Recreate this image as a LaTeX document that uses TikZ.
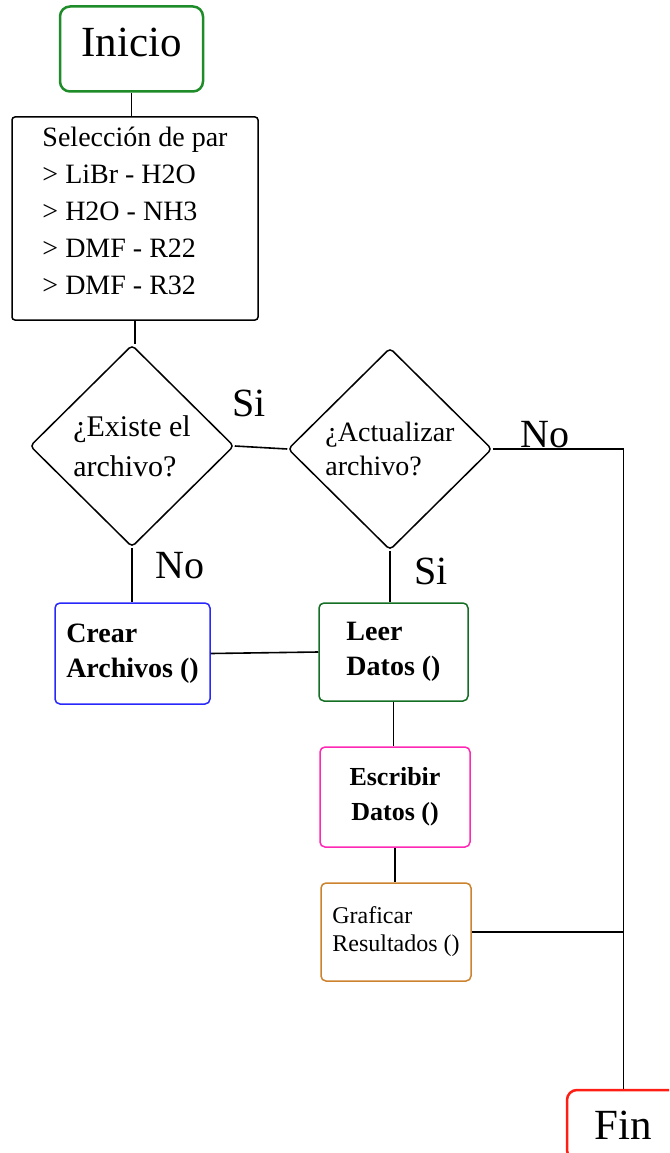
\documentclass[tikz,border=0pt]{standalone}
\usepackage{fontspec}
\setmainfont{Liberation Serif}
\usetikzlibrary{shapes.geometric}
\definecolor{inigreen}{RGB}{30,140,40}
\definecolor{leergreen}{RGB}{20,110,35}
\definecolor{crearblue}{RGB}{40,40,250}
\definecolor{escmag}{RGB}{255,40,180}
\definecolor{grafor}{RGB}{205,130,45}
\definecolor{finred}{RGB}{255,30,20}
\begin{document}
\begin{tikzpicture}[x=1pt,y=-1pt,
  box/.style={draw, rounded corners=5pt, line width=1.5pt, inner sep=0pt, align=left},
  dec/.style={diamond, draw, line width=1.5pt, rounded corners=4pt, inner sep=0pt, align=left,
    minimum width=204pt, minimum height=202pt},
  link/.style={line width=1.6pt},
  lab/.style={font=\fontsize{40}{40}\selectfont, anchor=base, inner sep=0pt}]
\useasboundingbox (0,0) rectangle (669,1153);
\clip (0,0) rectangle (669,1153);
% boxes
\node[box, draw=inigreen, line width=2.5pt, rounded corners=10pt, minimum width=143pt, minimum height=85pt,
  font=\fontsize{43}{43}\selectfont, text depth=14pt] (ini) at (131.5,49) {Inicio};
\node[box, rounded corners=3pt, minimum width=246pt, minimum height=203pt,
  font=\fontsize{28}{37}\selectfont, text depth=15pt] (sel) at (135,218.5)
  {Selección de par\\> LiBr - H2O\\> H2O - NH3\\> DMF - R22\\> DMF - R32};
\node[dec, font=\fontsize{30}{40}\selectfont] (d1) at (132,446) {¿Existe el\\archivo?};
\node[dec, font=\fontsize{28}{34}\selectfont] (d2) at (390,449) {¿Actualizar\\archivo?};
\node[box, draw=crearblue, minimum width=155pt, minimum height=101pt,
  font=\bfseries\fontsize{28}{35}\selectfont] (crear) at (132.5,653.5) {Crear\\Archivos ()};
\node[box, draw=leergreen, minimum width=149pt, minimum height=98pt,
  font=\bfseries\fontsize{28}{35}\selectfont] (leer) at (393.5,652) {Leer\\Datos ()};
\node[box, draw=escmag, minimum width=150pt, minimum height=100pt, align=center,
  font=\bfseries\fontsize{26}{35}\selectfont] (esc) at (395,797) {Escribir\\Datos ()};
\node[box, draw=grafor, minimum width=150pt, minimum height=98pt,
  font=\fontsize{24}{28}\selectfont, text depth=6pt] (graf) at (396,932) {Graficar\\Resultados ()};
\node[box, draw=finred, line width=2.5pt, rounded corners=10pt, minimum width=113pt, minimum height=70pt,
  font=\fontsize{43}{43}\selectfont] (fin) at (623.5,1125) {Fin};
% labels
\node[lab] (si1) at (249,416) {Si};
\node[lab] (no1) at (545,447) {No};
\node[lab] (no2) at (180,578) {No};
\node[lab] (si2) at (431,584) {Si};
% connectors
\draw[link] (ini.south) -- (sel.north -| ini.south);
\draw[link] (sel.south) -- (d1.north -| sel.south);
\draw[link] (d1.east) -- (d2.west);
\coordinate (c1) at (d2.east -| fin.north);
\draw[link] (d2.east) -- (c1) -- (fin.north);
\draw[link] (d1.south) -- (crear.north -| d1.south);
\draw[link] (crear.east) -- (leer.west);
\draw[link] (d2.south) -- (leer.north -| d2.south);
\draw[link] (leer.south) -- (esc.north -| leer.south);
\draw[link] (esc.south) -- (graf.north -| esc.south);
\draw[link] (graf.east) -- (graf.east -| fin.north);
\end{tikzpicture}
\end{document}
